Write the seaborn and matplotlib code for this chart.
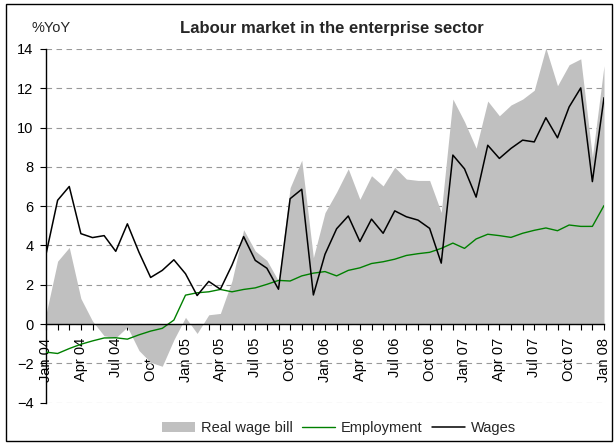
import matplotlib
matplotlib.use("Agg")
import matplotlib.pyplot as plt
from matplotlib.patches import Patch, Rectangle
from matplotlib.lines import Line2D
import numpy as np
import pandas as pd
import seaborn as sns

# monthly, Jan 04 .. Jan 08, % YoY
months = pd.date_range("2004-01-01", "2008-01-01", freq="MS")
month_labels = [d.strftime("%b %y") for d in months]

real_wage_bill = [0.5, 3.2, 3.9, 1.3, 0.15, -0.6, -0.7, -0.15, -1.35, -1.95, -2.15, -0.8,
                  0.34, -0.48, 0.47, 0.54, 2.2, 4.8, 3.72, 3.24, 2.19, 6.94, 8.34, 3.38,
                  5.67, 6.72, 7.9, 6.35, 7.55, 7.03, 7.98, 7.38, 7.31, 7.31, 5.68, 11.45,
                  10.3, 8.95, 11.35, 10.6, 11.15, 11.45, 11.9, 14.05, 12.13, 13.2, 13.5, 8.5,
                  13.15]
employment = [-1.43, -1.5, -1.25, -1.03, -0.86, -0.71, -0.7, -0.77, -0.55, -0.36, -0.22, 0.2,
              1.47, 1.59, 1.64, 1.76, 1.64, 1.76, 1.84, 2.02, 2.22, 2.19, 2.45, 2.59,
              2.67, 2.45, 2.73, 2.86, 3.08, 3.17, 3.3, 3.49, 3.58, 3.65, 3.85, 4.12,
              3.85, 4.33, 4.57, 4.5, 4.41, 4.62, 4.77, 4.89, 4.75, 5.04, 4.97, 4.97,
              6.03]
wages = [3.55, 6.3, 7.0, 4.6, 4.4, 4.5, 3.7, 5.1, 3.65, 2.37, 2.73, 3.27,
         2.56, 1.45, 2.17, 1.77, 3.0, 4.45, 3.24, 2.84, 1.77, 6.38, 6.86, 1.48,
         3.55, 4.85, 5.5, 4.2, 5.34, 4.62, 5.76, 5.46, 5.29, 4.87, 3.1, 8.6,
         7.9, 6.46, 9.1, 8.43, 8.94, 9.36, 9.27, 10.5, 9.48, 11.05, 12.02, 7.25,
         11.52]

sns.set_style("white")
plt.rcParams["font.family"] = ["Liberation Sans", "DejaVu Sans"]

df = pd.DataFrame({"t": np.arange(len(months)),
                   "Real wage bill": real_wage_bill,
                   "Employment": employment,
                   "Wages": wages})

fig = plt.figure(figsize=(6.16, 4.47), dpi=100)
ax = fig.add_axes([46 / 616, 1 - 402.6 / 447, 558 / 616, 353.6 / 447])

ax.fill_between(df["t"], 0, df["Real wage bill"], color="#c0c0c0", lw=0, zorder=1)
sns.lineplot(data=df, x="t", y="Employment", color="#008000", lw=1.0, ax=ax, zorder=3)
sns.lineplot(data=df, x="t", y="Wages", color="black", lw=1.1, ax=ax, zorder=4)

ax.set_xlim(0, 48)
ax.set_ylim(-4, 14)
ax.set_yticks(range(-4, 15, 2))
ax.yaxis.grid(True, ls=(0, (5, 4)), color="#999999", lw=0.8)
ax.xaxis.grid(False)
ax.set_axisbelow(True)

ax.set_xticks(range(0, 49, 3))
ax.set_xticklabels(month_labels[::3])
ax.set_xticks(range(49), minor=True)
ax.set_xlabel("")
ax.set_ylabel("")

for s in ["top", "right"]:
    ax.spines[s].set_visible(False)
ax.spines["bottom"].set_position(("data", 0))
ax.spines["bottom"].set_zorder(5)
for s in ["left", "bottom"]:
    ax.spines[s].set_color("black")
    ax.spines[s].set_linewidth(1.0)

ax.tick_params(axis="x", which="both", direction="out", length=4, width=0.8,
               bottom=True, pad=6, labelsize=10.5, colors="black", labelrotation=90)
ax.tick_params(axis="y", direction="out", length=4, width=0.8, left=True,
               pad=5, labelsize=10.5, colors="black")
for lab in ax.get_xticklabels():
    lab.set_ha("center")
    lab.set_va("top")

fig.text(332 / 616, 1 - 28 / 447, "Labour market in the enterprise sector",
         ha="center", va="center", fontsize=12, fontweight="bold")
fig.text(31 / 616, 1 - 28 / 447, "%YoY", ha="left", va="center", fontsize=10.5)

handles = [Patch(facecolor="#c0c0c0", edgecolor="none"),
           Line2D([], [], color="#008000", lw=1.0),
           Line2D([], [], color="black", lw=1.1)]
fig.legend(handles, ["Real wage bill", "Employment", "Wages"], loc="center",
           bbox_to_anchor=(339 / 616, 1 - 428 / 447), ncol=3, frameon=False,
           handlelength=2.3, handletextpad=0.4, columnspacing=0.6, fontsize=10.5)

fig.add_artist(Rectangle((6 / 616, 1 - 441 / 447), 606 / 616, 437 / 447,
                         transform=fig.transFigure, fill=False, ec="black", lw=1.0))

fig.savefig("out.png", dpi=100)
